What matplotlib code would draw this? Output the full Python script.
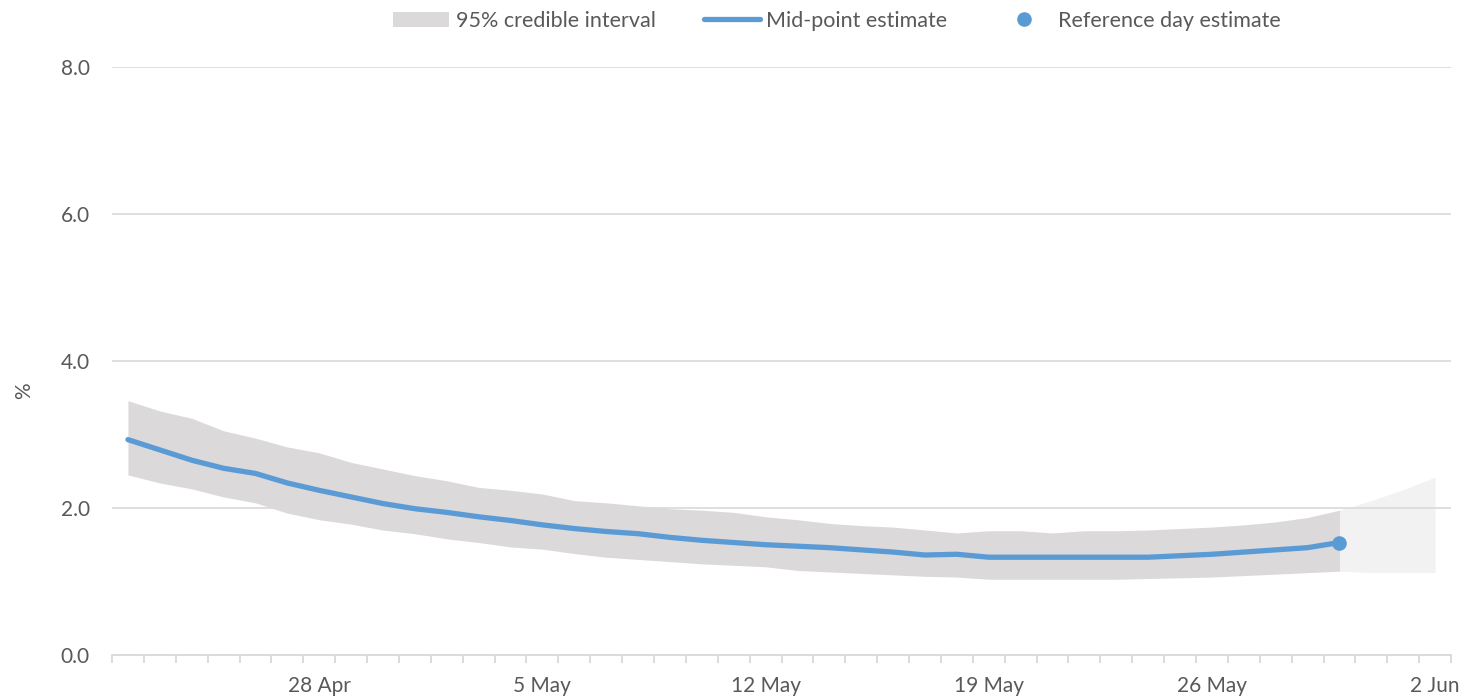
import matplotlib
matplotlib.use("Agg")
import matplotlib.pyplot as plt
import matplotlib.dates as mdates
from matplotlib.patches import Patch
from matplotlib.lines import Line2D
import numpy as np
import pandas as pd

plt.rcParams['font.family'] = ['Lato', 'DejaVu Sans']

# Daily estimates (%)
start_day = "2020-04-22"
end_day = "2020-06-02"
reference_day = "2020-05-30"

mid = [2.93, 2.79, 2.65, 2.54, 2.47, 2.34, 2.24, 2.15, 2.06, 1.99,
       1.94, 1.88, 1.83, 1.77, 1.72, 1.68, 1.65, 1.60, 1.56, 1.53,
       1.50, 1.48, 1.46, 1.43, 1.40, 1.36, 1.37, 1.33, 1.33, 1.33,
       1.33, 1.33, 1.33, 1.35, 1.37, 1.40, 1.43, 1.46, 1.53]
upper = [3.46, 3.32, 3.22, 3.05, 2.95, 2.83, 2.75, 2.62, 2.53, 2.44,
         2.37, 2.28, 2.24, 2.19, 2.10, 2.07, 2.03, 1.99, 1.97, 1.94,
         1.88, 1.84, 1.79, 1.76, 1.74, 1.70, 1.66, 1.69, 1.69, 1.66,
         1.69, 1.69, 1.70, 1.72, 1.74, 1.77, 1.81, 1.87, 1.97]
lower = [2.45, 2.34, 2.26, 2.15, 2.07, 1.93, 1.84, 1.78, 1.70, 1.65,
         1.58, 1.53, 1.47, 1.44, 1.38, 1.33, 1.30, 1.27, 1.24, 1.22,
         1.20, 1.15, 1.13, 1.11, 1.09, 1.07, 1.06, 1.03, 1.03, 1.03,
         1.03, 1.03, 1.04, 1.05, 1.06, 1.08, 1.10, 1.12, 1.14]

# Interval beyond the reference day
proj_upper = [1.97, 2.10, 2.25, 2.42]
proj_lower = [1.14, 1.12, 1.12, 1.12]

tick_days = ["2020-04-28", "2020-05-05", "2020-05-12", "2020-05-19",
             "2020-05-26", "2020-06-02"]
tick_labels = ["28 Apr", "5 May", "12 May", "19 May", "26 May", "2 Jun"]
y_ticks = [0, 2, 4, 6, 8]

legend_labels = ["95% credible interval", "Mid-point estimate",
                 "Reference day estimate"]

BAND = "#dbd9da"
BAND_LIGHT = "#f2f2f2"
BLUE = "#5b9bd5"
GRID = "#d9d9d9"
TEXT = "#595959"

days = pd.date_range(start_day, end_day, freq="D")
x_all = mdates.date2num(days.to_pydatetime())
x_est = x_all[:len(mid)]
ref_idx = list(days.strftime("%Y-%m-%d")).index(reference_day)
x_proj = x_all[ref_idx:ref_idx + len(proj_upper)]

fig = plt.figure(figsize=(14.66, 6.97), dpi=100)
ax = fig.add_axes([0.0764, 0.0603, 0.9134, 0.8436])

ax.set_axisbelow(True)
ax.fill_between(x_proj, proj_lower, proj_upper, color=BAND_LIGHT, lw=0, zorder=0.2)
ax.fill_between(x_est, lower, upper, color=BAND, lw=0, zorder=1)
ax.plot(x_est, mid, color=BLUE, lw=3.8, solid_capstyle="round",
        solid_joinstyle="round", zorder=2)
ax.plot([x_all[ref_idx]], [mid[ref_idx]], "o", color=BLUE, ms=9.5, zorder=3)

ax.set_xlim(x_all[0] - 0.5, x_all[-1] + 0.5)
ax.set_ylim(0, 8)

ax.set_yticks(y_ticks)
ax.set_yticklabels([f"{v:.1f}" for v in y_ticks])
ax.yaxis.grid(True, color=GRID, lw=1.2)
ax.tick_params(axis="y", length=0, pad=16, labelsize=15, labelcolor=TEXT)

tick_x = mdates.date2num(pd.to_datetime(tick_days).to_pydatetime())
ax.set_xticks(tick_x)
ax.set_xticklabels(tick_labels)
ax.set_xticks(np.append(x_all - 0.5, x_all[-1] + 0.5), minor=True)
ax.tick_params(axis="x", which="major", length=0, pad=15.5, labelsize=15,
               labelcolor=TEXT)
ax.tick_params(axis="x", which="minor", length=6, width=1.3, color=GRID)

for side in ("top", "right", "left"):
    ax.spines[side].set_visible(False)
ax.spines["bottom"].set_color(GRID)
ax.spines["bottom"].set_linewidth(1.3)

ax.set_ylabel("%", fontsize=15, color=TEXT)
ax.yaxis.set_label_coords(-0.058, 0.45)

handles = [
    Patch(facecolor=BAND, edgecolor="none"),
    Line2D([], [], color=BLUE, lw=3.8, solid_capstyle="round"),
    Line2D([], [], color=BLUE, marker="o", ms=9.5, lw=0),
]
fig.legend(handles, legend_labels, loc="center", ncol=3,
           bbox_to_anchor=(0.571, 0.970), frameon=False, fontsize=15.5,
           labelcolor=TEXT, handlelength=2.6, handletextpad=0.3,
           columnspacing=2.25, borderaxespad=0)

fig.savefig("out.png", dpi=100)
